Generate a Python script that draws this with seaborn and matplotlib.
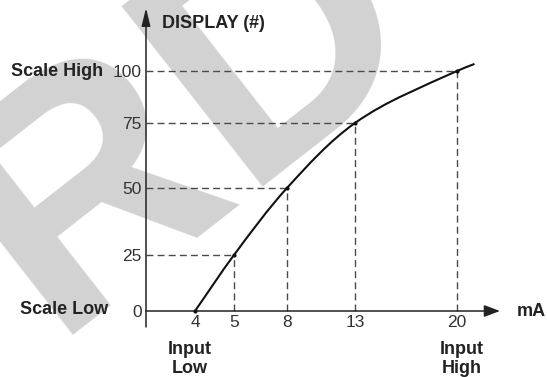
import numpy as np
import matplotlib
matplotlib.use("Agg")
import matplotlib.pyplot as plt
from matplotlib.path import Path
from matplotlib.patches import PathPatch
import seaborn as sns
import pandas as pd

# ---- data ----
input_ma = [4, 5, 8, 13, 20]            # mA
display_val = [0, 25, 50, 75, 100]      # display counts
curve_end_ma = 21.2                     # curve continues a bit past 20 mA
curve_end_display = 103.4
x_tick_labels = ["4", "5", "8", "13", "20"]
y_tick_labels = ["0", "25", "50", "75", "100"]
y_axis_title = "DISPLAY (#)"
x_axis_title = "mA"
scale_low_label = "Scale Low"
scale_high_label = "Scale High"
input_low_label = "Input\nLow"
input_high_label = "Input\nHigh"
watermark = "PRD"

# ---- schematic (non-uniform) axis spacing, as drawn in the reference ----
x_knot_pix = [195, 234, 287, 355, 457]
y_knot_pix = [0, 56, 123, 188, 240]


def piecewise(src, dst):
    src = np.asarray(src, float)
    dst = np.asarray(dst, float)

    def f(v):
        a = np.asarray(v, float)
        flat = a.ravel().copy()
        out = np.interp(flat, src, dst)
        lo = flat < src[0]
        hi = flat > src[-1]
        s0 = (dst[1] - dst[0]) / (src[1] - src[0])
        s1 = (dst[-1] - dst[-2]) / (src[-1] - src[-2])
        out[lo] = dst[0] + (flat[lo] - src[0]) * s0
        out[hi] = dst[-1] + (flat[hi] - src[-1]) * s1
        return out.reshape(a.shape)
    return f


xf = piecewise(input_ma, x_knot_pix)
xi = piecewise(x_knot_pix, input_ma)
yf = piecewise(display_val, y_knot_pix)
yi = piecewise(y_knot_pix, display_val)

sns.set_theme(style="white")
plt.rcParams["font.family"] = ["Liberation Sans", "DejaVu Sans"]

W, H, DPI = 547, 377, 100
fig = plt.figure(figsize=(W / DPI, H / DPI), dpi=DPI)

# faint watermark behind the chart
fig.text(431 / W, 1 - 38 / H, watermark, fontsize=240, fontweight="bold",
         color="#d2d2d2", rotation=38, rotation_mode="anchor", ha="right",
         va="baseline", zorder=-1)

ax_l, ax_r, ax_t, ax_b = 146, 500, 8, 327
ax = fig.add_axes([ax_l / W, (H - ax_b) / H, (ax_r - ax_l) / W, (ax_b - ax_t) / H])
ax.patch.set_alpha(0)
ax.set_xscale("function", functions=(xf, xi))
ax.set_yscale("function", functions=(yf, yi))
base_row = 311
ax.set_xlim(float(xi(ax_l)), float(xi(ax_r)))
ax.set_ylim(float(yi(base_row - ax_b)), float(yi(base_row - ax_t)))

for s in ax.spines.values():
    s.set_visible(False)
ax.spines["bottom"].set_position(("data", 0))

PX = 0.72  # points per pixel
ink = "#222222"
dash_col = "#4a4a4a"

# axes with arrows
ax.annotate("", xy=(0, 1), xytext=(0, 0), xycoords="axes fraction",
            arrowprops=dict(arrowstyle="-|>,head_length=0.9,head_width=0.22",
                            lw=1.1, color=ink, shrinkA=0, shrinkB=0,
                            mutation_scale=12))
ax.annotate("", xy=(1, 0), xytext=(0, 0), xycoords=("axes fraction", "data"),
            arrowprops=dict(arrowstyle="-|>,head_length=0.8,head_width=0.3",
                            lw=1.1, color=ink, shrinkA=0, shrinkB=0,
                            mutation_scale=12))

# dashed guide lines
x0 = ax.get_xlim()[0]
for xv, yv in zip(input_ma, display_val):
    if yv > 0:
        ax.hlines(yv, x0, xv, colors=dash_col, linewidth=1.0,
                  linestyles=(0, (5, 3)), zorder=2)
        ax.vlines(xv, 0, yv, colors=dash_col, linewidth=1.0,
                  linestyles=(0, (5, 3)), zorder=2)

# smooth transfer curve through the points (cubic Bezier with chord-scaled
# tangents, built in the axes' scaled space so it follows the axis scales)
cx = np.asarray(input_ma + [curve_end_ma], float)
cy = np.asarray(display_val + [curve_end_display], float)
P = np.column_stack([xf(cx), yf(cy)])
n = len(P)
T = []
for i in range(n):
    a = P[max(i - 1, 0)]
    b = P[min(i + 1, n - 1)]
    if i == 0 or i == n - 1:
        d = b - a
        T.append(d / np.linalg.norm(d))
    else:
        u1 = (P[i] - a) / np.linalg.norm(P[i] - a)
        u2 = (b - P[i]) / np.linalg.norm(b - P[i])
        d = u1 + u2
        T.append(d / np.linalg.norm(d))
verts = [P[0]]
codes = [Path.MOVETO]
for i in range(n - 1):
    L = np.linalg.norm(P[i + 1] - P[i]) / 3.0
    verts += [P[i] + T[i] * L, P[i + 1] - T[i + 1] * L, P[i + 1]]
    codes += [Path.CURVE4] * 3
ax.add_patch(PathPatch(Path(verts, codes), fill=False, edgecolor="#111111",
                       linewidth=1.5, zorder=3,
                       transform=ax.transLimits + ax.transAxes))

pts = pd.DataFrame({"mA": input_ma, "display": display_val})
sns.scatterplot(data=pts, x="mA", y="display", ax=ax, color="#111111",
                s=9, linewidth=0, zorder=4)

# ticks
ax.set_xticks(input_ma, x_tick_labels)
ax.set_yticks(display_val, y_tick_labels)
ax.tick_params(axis="both", length=0, labelsize=12.5, labelcolor="#333333")
ax.tick_params(axis="x", pad=3)
ax.tick_params(axis="y", pad=3)
ax.minorticks_off()
ax.set_xlabel("")
ax.set_ylabel("")

bold = dict(fontsize=13, fontweight="bold", color=ink)
ax.annotate(y_axis_title, xy=(0, 1), xycoords="axes fraction",
            xytext=(16 * PX, -16 * PX), textcoords="offset points",
            ha="left", va="center", **bold)
ax.annotate(x_axis_title, xy=(1, 0), xycoords=("axes fraction", "data"),
            xytext=(17 * PX, 0), textcoords="offset points",
            ha="left", va="center", **bold)
ax.annotate(scale_high_label, xy=(0, display_val[-1]),
            xycoords=("axes fraction", "data"),
            xytext=(-43 * PX, 0), textcoords="offset points",
            ha="right", va="center", **bold)
ax.annotate(scale_low_label, xy=(0, display_val[0]),
            xycoords=("axes fraction", "data"),
            xytext=(-38 * PX, 1 * PX), textcoords="offset points",
            ha="right", va="center", **bold)
ax.annotate(input_low_label, xy=(input_ma[0], 0), xycoords="data",
            xytext=(-5 * PX, -30 * PX), textcoords="offset points",
            ha="center", va="top", multialignment="center",
            linespacing=1.15, **bold)
ax.annotate(input_high_label, xy=(input_ma[-1], 0), xycoords="data",
            xytext=(5 * PX, -30 * PX), textcoords="offset points",
            ha="center", va="top", multialignment="center",
            linespacing=1.15, **bold)

fig.savefig("out.png", dpi=DPI, facecolor="white")
